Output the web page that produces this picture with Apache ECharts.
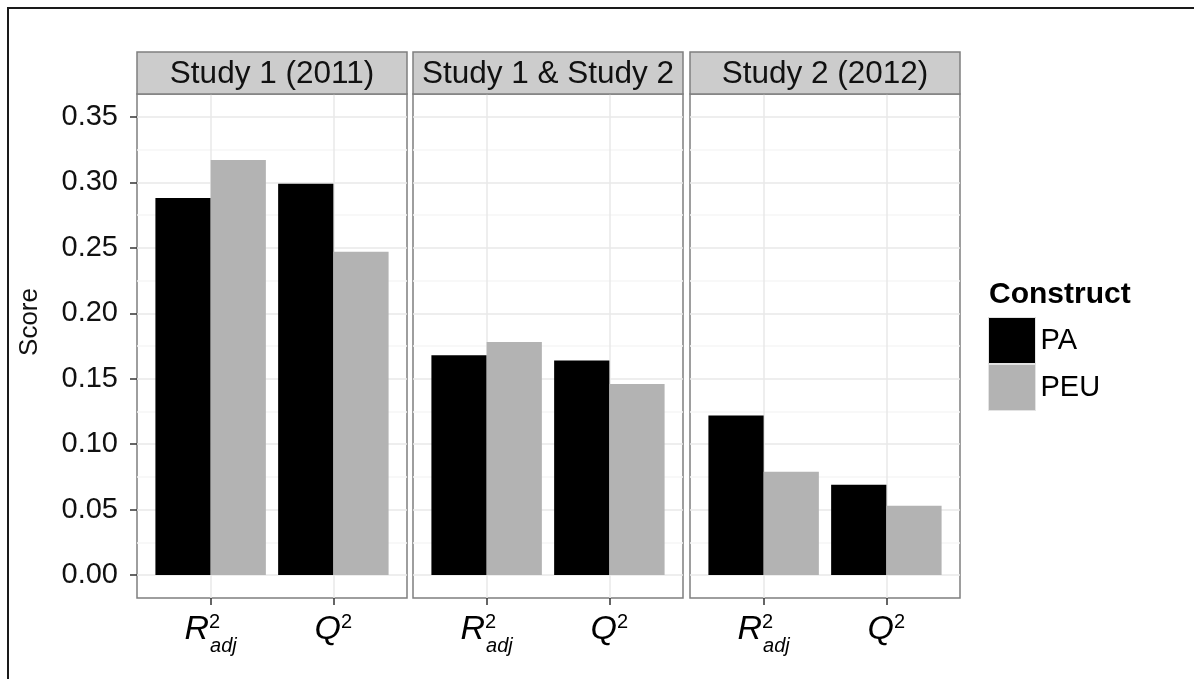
<!DOCTYPE html>
<html>
<head>
<meta charset="utf-8">
<script src="https://cdn.jsdelivr.net/npm/echarts@6/dist/echarts.min.js"></script>
<style>
html, body { margin: 0; padding: 0; background: #ffffff; }
#chart { width: 1194px; height: 679px; }
</style>
</head>
<body>
<div id="chart"></div>
<script>
// ---- data ----
const studies = ['Study 1 (2011)', 'Study 1 & Study 2', 'Study 2 (2012)'];
const constructs = ['PA', 'PEU'];
const measures = ['R2adj', 'Q2'];
const paScores = [[0.288, 0.299], [0.168, 0.164], [0.122, 0.069]];
const peuScores = [[0.317, 0.247], [0.178, 0.146], [0.079, 0.053]];
const scoreTicks = [0, 0.05, 0.10, 0.15, 0.20, 0.25, 0.30, 0.35];
const scoreMinorTicks = [0.025, 0.075, 0.125, 0.175, 0.225, 0.275, 0.325];
const scoreRange = [-0.0175, 0.3675];

// ---- look ----
const FONT = 'Liberation Sans, Arial, Helvetica, sans-serif';
const constructColors = ['#000000', '#b3b3b3'];
const scoresByConstruct = [paScores, peuScores];

// facet layout
const panelLeft = [137, 413, 690];
const panelWidth = 270;
const panelTop = 94;
const panelHeight = 504;
const stripHeight = 42;

// measure positions on the discrete x scale (1, 2) with 0.6 padding each side
const measurePos = measures.map((m, k) => k + 1);

function measureLabel(v) {
  const m = measures[Math.round(v) - 1];
  return m === 'R2adj' ? '{r|R}{sup|2}{sub|adj}' : '{q|Q}{sup2|2}';
}

// R with stacked super/subscript, Q with superscript
const labelRich = {
  r:    { fontFamily: FONT, fontSize: 34, fontStyle: 'italic', color: '#000', lineHeight: 48, verticalAlign: 'middle', align: 'left' },
  q:    { fontFamily: FONT, fontSize: 34, fontStyle: 'italic', color: '#000', lineHeight: 48, verticalAlign: 'middle', align: 'left' },
  sup:  { fontFamily: FONT, fontSize: 20, color: '#000', lineHeight: 32, height: 32, verticalAlign: 'top', align: 'left', width: 1 },
  sup2: { fontFamily: FONT, fontSize: 20, color: '#000', lineHeight: 32, height: 32, verticalAlign: 'top', align: 'left' },
  sub:  { fontFamily: FONT, fontSize: 20, fontStyle: 'italic', color: '#000', lineHeight: 16, height: 16, verticalAlign: 'bottom', align: 'left' }
};

const grids = [], xAxes = [], yAxes = [], series = [], graphics = [];

studies.forEach((study, i) => {
  grids.push({
    left: panelLeft[i], top: panelTop, width: panelWidth, height: panelHeight,
    show: true, backgroundColor: '#ffffff', borderColor: '#7f7f7f', borderWidth: 1.5,
    containLabel: false, outerBoundsMode: 'none'
  });

  xAxes.push({
    gridIndex: i, type: 'value', min: 0.4, max: 2.6, position: 'bottom',
    axisLine: { show: false, onZero: false },
    axisTick: { show: true, customValues: measurePos, length: 7, lineStyle: { color: '#333333', width: 1.5 } },
    axisLabel: { show: true, customValues: measurePos, formatter: measureLabel, margin: 8, rich: labelRich },
    splitLine: { show: true, lineStyle: { color: '#e8e8e8', width: 1.5 } }
  });

  // major score axis (bars attach here)
  yAxes.push({
    gridIndex: i, type: 'value', min: scoreRange[0], max: scoreRange[1], position: 'left',
    axisLine: { show: false, onZero: false },
    axisTick: { show: i === 0, customValues: scoreTicks, length: 7, lineStyle: { color: '#333333', width: 1.5 } },
    axisLabel: {
      show: i === 0, customValues: scoreTicks, margin: 19,
      formatter: v => v.toFixed(2),
      fontFamily: FONT, fontSize: 29, color: '#111111'
    },
    splitLine: { show: true, lineStyle: { color: '#e8e8e8', width: 1.5 } }
  });
  // minor grid lines between the labelled scores
  yAxes.push({
    gridIndex: i, type: 'value', min: scoreRange[0], max: scoreRange[1],
    axisLine: { show: false, onZero: false },
    axisTick: { show: false, customValues: scoreMinorTicks },
    axisLabel: { show: false, customValues: scoreMinorTicks },
    splitLine: { show: true, lineStyle: { color: '#f6f6f6', width: 1.5 } }
  });

  constructs.forEach((c, ci) => {
    series.push({
      type: 'bar', name: c,
      xAxisIndex: i, yAxisIndex: 2 * i,
      data: measures.map((m, k) => [measurePos[k], scoresByConstruct[ci][i][k]]),
      barWidth: '45%', barGap: '0%',
      itemStyle: { color: constructColors[ci] },
      emphasis: { disabled: true },
      silent: true
    });
  });

  // facet strip
  graphics.push({
    type: 'rect',
    shape: { x: panelLeft[i], y: panelTop - stripHeight, width: panelWidth, height: stripHeight },
    style: { fill: '#cccccc', stroke: '#7f7f7f', lineWidth: 1.5 },
    z: 10
  });
  graphics.push({
    type: 'text',
    x: panelLeft[i] + panelWidth / 2, y: panelTop - stripHeight / 2 + 1,
    style: { text: study, fontFamily: FONT, fontSize: 31.5, fill: '#111111', align: 'center', verticalAlign: 'middle' },
    z: 11
  });
});

// y axis title
graphics.push({
  type: 'text', x: 30, y: 322, rotation: Math.PI / 2,
  style: { text: 'Score', fontFamily: FONT, fontSize: 26, fill: '#111111', align: 'center', verticalAlign: 'middle' },
  z: 11
});

// outer frame
graphics.push({
  type: 'polyline',
  shape: { points: [[8, 679], [8, 8], [1194, 8]] },
  style: { stroke: '#1a1a1a', lineWidth: 2, fill: null },
  z: 11
});

const chart = echarts.init(document.getElementById('chart'), null, { renderer: 'canvas' });
chart.setOption({
  animation: false,
  backgroundColor: '#ffffff',
  title: {
    text: 'Construct', left: 989, top: 280, padding: 0,
    textStyle: { fontFamily: FONT, fontSize: 30, fontWeight: 'bold', color: '#000000' }
  },
  legend: {
    data: constructs, orient: 'vertical', left: 988, top: 317,
    itemWidth: 47, itemHeight: 46, itemGap: 0, padding: 0,
    icon: 'rect', selectedMode: false,
    itemStyle: { borderColor: '#e3e3e3', borderWidth: 1 },
    textStyle: { fontFamily: FONT, fontSize: 29, color: '#000000' }
  },
  grid: grids,
  xAxis: xAxes,
  yAxis: yAxes,
  series: series,
  graphic: graphics
});
</script>
</body>
</html>
